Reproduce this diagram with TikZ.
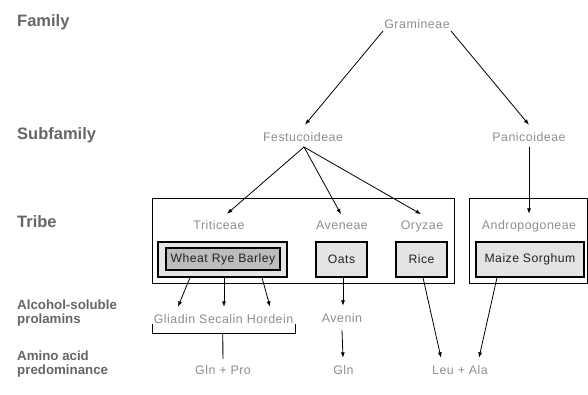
\documentclass[tikz,border=0pt]{standalone}
\usepackage{fontspec}
\setmainfont{Liberation Sans}
\newfontfamily\grfont[LetterSpace=4]{Liberation Sans}
\usetikzlibrary{arrows.meta}
\definecolor{labgray}{HTML}{666666}
\definecolor{txtgray}{HTML}{8F8F8F}
\definecolor{boxfill}{HTML}{E4E4E4}
\definecolor{innerfill}{HTML}{BDBDBD}
\definecolor{boxtxt}{HTML}{222222}
\tikzset{
  biglab/.style={font=\bfseries\fontsize{16.5}{18}\selectfont, text=labgray, inner sep=0pt, anchor=base west},
  smalllab/.style={font=\bfseries\fontsize{13.3}{14}\selectfont, text=labgray, inner sep=0pt, anchor=base west, align=left},
  taxon/.style={font=\grfont\fontsize{12.4}{14}\selectfont, text=txtgray, inner sep=0pt, anchor=base},
  crop/.style={draw=black, line width=1.1pt, fill=boxfill, font=\grfont\fontsize{12.2}{14}\selectfont, text=boxtxt, minimum height=35pt, inner sep=0pt},
  group/.style={draw=black, line width=1pt, inner sep=0pt},
  arr/.style={line width=0.8pt, -{Latex[length=5.5pt,width=4pt]}},
  ln/.style={line width=0.9pt},
}
\begin{document}
\begin{tikzpicture}[x=1pt,y=-1pt]
\useasboundingbox[fill=white] (0,0) rectangle (588,394);
% group frames
\node[group, minimum width=302pt, minimum height=85pt] (grpL) at (303,240.5) {};
\node[group, minimum width=118pt, minimum height=85pt] (grpR) at (528,240.5) {};
% row labels
\node[biglab] (family) at (17,26) {Family};
\node[biglab] (subfamily) at (17,139) {Subfamily};
\node[biglab] (tribe) at (17,227) {Tribe};
\node[smalllab] (alcohol) at (17,323) {Alcohol-soluble\\prolamins};
\node[smalllab] (amino) at (17,374) {Amino acid\\predominance};
% taxa
\node[taxon] (gram) at (417,28) {Gramineae};
\node[taxon] (fest) at (303,141) {Festucoideae};
\node[taxon] (pan) at (529,141) {Panicoideae};
\node[taxon] (trit) at (219,229) {Triticeae};
\node[taxon] (aven) at (342,229) {Aveneae};
\node[taxon] (oryz) at (422,229) {Oryzae};
\node[taxon] (andro) at (529,229) {Andropogoneae};
% crops
\node[crop, minimum width=129pt] (wrbo) at (222.5,259.5) {};
\node[draw=black, line width=1.1pt, fill=innerfill, minimum width=114pt, minimum height=22pt, inner sep=0pt,
      font=\grfont\fontsize{12.2}{14}\selectfont, text=boxtxt] (wrb) at (223,259) {Wheat Rye Barley};
\node[crop, minimum width=51pt] (oats) at (341.5,259.5) {Oats};
\node[crop, minimum width=51pt] (rice) at (421.5,259.5) {Rice};
\node[crop, minimum width=108pt] (maize) at (530,259.5) {Maize Sorghum};
% prolamins and amino acids
\node[taxon] (glia) at (223.5,323) {Gliadin Secalin Hordein};
\node[taxon] (avenin) at (342,322) {Avenin};
\node[taxon] (glnpro) at (223,374) {Gln + Pro};
\node[taxon] (gln) at (343.5,374) {Gln};
\node[taxon] (leuala) at (460,374) {Leu + Ala};
% connectors
\coordinate (fsplit) at (304,147);
\coordinate (gL) at (383,31);
\coordinate (gR) at (451,31);
\draw[arr] (gL) -- ([xshift=2pt,yshift=7pt]fest.north);
\draw[arr] (gR) -- ([yshift=7pt]pan.north);
\draw[ln] ([yshift=-6pt]fest.south) -- (fsplit);
\draw[arr] (fsplit) -- ([xshift=8pt,yshift=6pt]trit.north);
\draw[arr] (fsplit) -- ([xshift=-1pt,yshift=6pt]aven.north);
\draw[arr] (fsplit) -- ([xshift=-1pt,yshift=6pt]oryz.north);
\draw[arr] ([yshift=-6pt]pan.south) -- ([yshift=6pt]andro.north);
\draw[arr] ([xshift=-32.5pt]wrbo.south) -- ([xshift=-45.5pt,yshift=7pt]glia.north);
\draw[arr] ([xshift=1.5pt]wrbo.south) -- ([xshift=0.5pt,yshift=7pt]glia.north);
\draw[arr] ([xshift=39.5pt]wrbo.south) -- ([xshift=46.5pt,yshift=7pt]glia.north);
\draw[arr] ([xshift=1.5pt]oats.south) -- ([xshift=1pt,yshift=7pt]avenin.north);
\draw[arr] ([yshift=-8pt]avenin.south) -- ([xshift=-0.5pt,yshift=7pt]gln.north);
\draw[arr] ([xshift=1.5pt]rice.south) -- ([xshift=-19pt,yshift=7pt]leuala.north);
\draw[arr] ([xshift=-33pt]maize.south) -- ([xshift=19pt,yshift=7pt]leuala.north);
% bracket
\coordinate (brL) at (152,324);
\coordinate (brR) at (295.5,324);
\draw[ln] (brL) -- ++(0,9) -| (brR);
\draw[ln] (222.7,333) -- ([yshift=6pt]glnpro.north);
\end{tikzpicture}
\end{document}
